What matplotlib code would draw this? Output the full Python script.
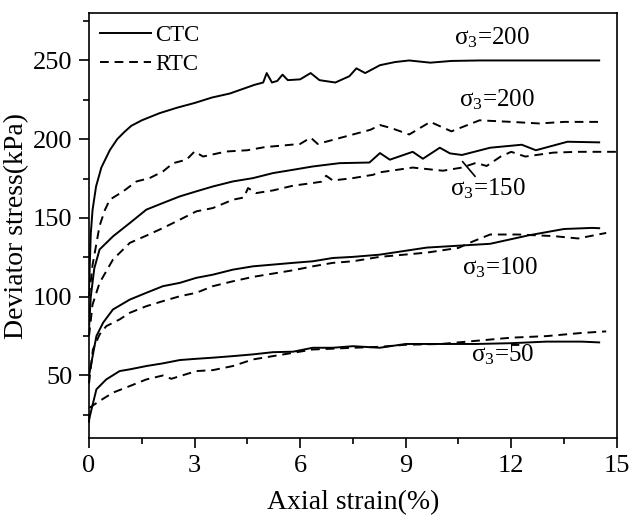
import matplotlib
matplotlib.use("Agg")
import matplotlib.pyplot as plt
from matplotlib.ticker import MultipleLocator

plt.rcParams['font.family'] = ['Liberation Serif', 'DejaVu Serif']
plt.rcParams['mathtext.fontset'] = 'custom'
plt.rcParams['mathtext.rm'] = 'Liberation Serif'
plt.rcParams['mathtext.it'] = 'Liberation Serif:italic'

# ---- data ----
ctc200_x = [0, 0.05, 0.1, 0.2, 0.35, 0.59, 0.8, 1.0, 1.2, 1.5, 2.0, 2.5, 3.0, 3.5, 4.0, 4.7, 4.95,
            5.05, 5.2, 5.35, 5.5, 5.65, 6.0, 6.3, 6.55, 7.0, 7.4, 7.6, 7.85, 8.27, 8.7, 9.1, 9.7,
            10.3, 11.1, 12, 13, 14.5]
ctc200_y = [105, 140, 155, 170, 182, 193, 200, 204.5, 208.5, 212, 216.5, 220, 223, 226.5, 229,
            234.5, 236, 242, 236, 237, 241, 237.5, 238, 242, 237.5, 236, 240, 245, 242, 247, 249,
            250, 248.6, 249.7, 250, 250, 250, 250]

rtc200_x = [0, 0.1, 0.3, 0.45, 0.59, 0.97, 1.35, 1.72, 2.1, 2.39, 2.77, 3.0, 3.24, 3.9, 4.5, 5.0,
            5.5, 6.0, 6.3, 6.5, 7.0, 7.5, 8.0, 8.27, 8.6, 9.1, 9.7, 10.3, 11.1, 12, 12.8, 13.5, 14.5]
rtc200_y = [100, 120, 145, 155, 161.6, 166.9, 173.2, 175.3, 179.5, 184.8, 187, 192.2, 189, 192.2,
            193, 195, 196, 197, 201, 197, 200, 203, 206, 209, 207, 203, 211, 205, 212, 211, 210,
            211, 211]

ctc150_x = [0, 0.05, 0.15, 0.3, 0.68, 1.16, 1.63, 2.1, 2.58, 3.05, 3.52, 4.09, 4.66, 5.23, 5.8,
            6.36, 7.12, 7.97, 8.27, 8.55, 9.2, 9.49, 9.97, 10.26, 10.6, 11.4, 12.3, 12.7, 13.6, 14.5]
ctc150_y = [80, 100, 118, 130, 138.3, 146.8, 155.3, 159.5, 163.7, 166.9, 170, 173.2, 175.3, 178.5,
            180.6, 182.7, 184.8, 185.2, 191.2, 187, 192, 187.6, 194.6, 191, 190, 194.6, 196.5, 193,
            198.4, 198]

rtc150_x = [0, 0.1, 0.3, 0.68, 1.16, 1.63, 2.1, 2.58, 3.05, 3.52, 4.09, 4.4, 4.52, 4.75, 5.23, 5.8,
            6.36, 6.6, 6.74, 6.93, 7.5, 8.07, 8.27, 9.2, 10.06, 10.6, 11.0, 11.3, 11.7, 12.0, 12.4,
            13.2, 13.9, 15.0]
rtc150_y = [75, 95, 108.8, 123.6, 134.2, 138.8, 143.6, 148.9, 154.2, 156.3, 161.6, 163, 169, 165.8,
            167.5, 170.5, 172.2, 173, 176.8, 173.8, 175.3, 177.4, 179, 182, 180, 182, 185, 183, 189,
            192, 189, 191.5, 192, 192]

ctc100_x = [0, 0.21, 0.4, 0.68, 1.16, 1.63, 2.1, 2.58, 3.05, 3.52, 4.09, 4.66, 5.23, 5.8, 6.36,
            6.93, 7.5, 8.26, 9.6, 11.4, 12.5, 13.5, 14.3, 14.5]
ctc100_y = [50, 75, 83.5, 91.9, 98.2, 102.5, 106.7, 108.8, 112, 114, 117.2, 119.3, 120.4, 121.5,
            122.5, 124.6, 125.3, 126.7, 131.2, 133.6, 139, 143, 143.7, 143.5]

rtc100_x = [0, 0.11, 0.3, 0.49, 0.87, 1.16, 1.63, 2.1, 2.58, 3.05, 3.52, 4.09, 4.66, 5.23, 5.8,
            6.36, 6.93, 7.5, 8.26, 9.6, 10.5, 10.9, 11.4, 12.2, 13.2, 13.9, 14.7]
rtc100_y = [45, 66.5, 76, 81.3, 85.6, 89.8, 94, 97.2, 100.3, 102.5, 106.7, 109.8, 112.6, 114.7,
            116.8, 119.3, 121.5, 122.5, 125.3, 128, 131, 135, 139.5, 139.5, 138.5, 137, 140.5]

ctc50_x = [0, 0.21, 0.49, 0.87, 1.16, 1.63, 2.1, 2.58, 3.05, 3.52, 4.09, 4.66, 5.23, 5.8, 6.36,
           6.93, 7.5, 8.26, 9, 10, 11, 12, 13, 14, 14.5]
ctc50_y = [22, 41.2, 47.5, 52.8, 53.9, 56, 57.7, 59.8, 60.6, 61.3, 62.3, 63.4, 64.8, 65.1, 67.6,
           67.6, 68.6, 67.6, 70, 70, 70, 70.5, 71.5, 71.5, 71]

rtc50_x = [0, 0.02, 0.3, 0.68, 1.16, 1.63, 2.1, 2.34, 3.05, 3.52, 4.09, 4.66, 5.23, 5.8, 6.36, 6.93,
           7.5, 8.26, 9, 10, 11, 12, 13, 14, 14.7]
rtc50_y = [20, 29.6, 33.8, 39.1, 43.3, 47.5, 50, 47.9, 52.8, 53.4, 56, 60.2, 62.3, 64.4, 66.5, 67,
           67.6, 68.2, 69.5, 70, 72, 74, 75, 77, 78]

legend_labels = ["CTC", "RTC"]
x_ticks = [0, 3, 6, 9, 12, 15]
y_ticks = [50, 100, 150, 200, 250]

# ---- figure ----
fig = plt.figure(figsize=(6.30, 5.18), dpi=100)
ax = fig.add_axes([0.1413, 0.1535, 0.8377, 0.821])

lw = 1.4
dash = (4.5, 3)
solid_sets = [(ctc200_x, ctc200_y), (ctc150_x, ctc150_y), (ctc100_x, ctc100_y), (ctc50_x, ctc50_y)]
dashed_sets = [(rtc200_x, rtc200_y), (rtc150_x, rtc150_y), (rtc100_x, rtc100_y), (rtc50_x, rtc50_y)]
for i, (xs, ys) in enumerate(solid_sets):
    ax.plot(xs, ys, color='black', lw=lw, label=legend_labels[0] if i == 0 else None)
for i, (xs, ys) in enumerate(dashed_sets):
    ax.plot(xs, ys, color='black', lw=lw, dashes=dash, clip_on=False,
            label=legend_labels[1] if i == 0 else None)

ax.set_xlim(0, 15)
ax.set_ylim(10, 280)
ax.set_xticks(x_ticks)
ax.set_yticks(y_ticks)
ax.xaxis.set_minor_locator(MultipleLocator(1.5))
ax.yaxis.set_minor_locator(MultipleLocator(25))
ax.tick_params(which='major', direction='out', length=7, width=1.2, labelsize=19, pad=5)
ax.tick_params(which='minor', direction='out', length=4, width=1.2)
for s in ax.spines.values():
    s.set_linewidth(1.2)

ax.set_xlabel("Axial strain(%)", fontsize=20, labelpad=9)
ax.set_ylabel("Deviator stress(kPa)", fontsize=20, labelpad=3)

fs = 18
ax.text(11.45, 264.3, r"σ$_3$=200", fontsize=fs, ha='center', va='center')
ax.text(11.58, 225, r"σ$_3$=200", fontsize=fs, ha='center', va='center')
ax.text(11.35, 168.5, r"σ$_3$=150", fontsize=fs, ha='center', va='center')
ax.plot([10.62, 10.97], [185.7, 176.5], color='black', lw=1.2)
ax.text(11.68, 118.5, r"σ$_3$=100", fontsize=fs, ha='center', va='center')
ax.text(11.75, 63.5, r"σ$_3$=50", fontsize=fs, ha='center', va='center')

ax.legend(loc='upper left', frameon=False, fontsize=16.5, handlelength=2.2,
          borderaxespad=0.1, labelspacing=0.35, handletextpad=0.2,
          bbox_to_anchor=(0.0, 1.0))

fig.savefig("out.png", dpi=100)
